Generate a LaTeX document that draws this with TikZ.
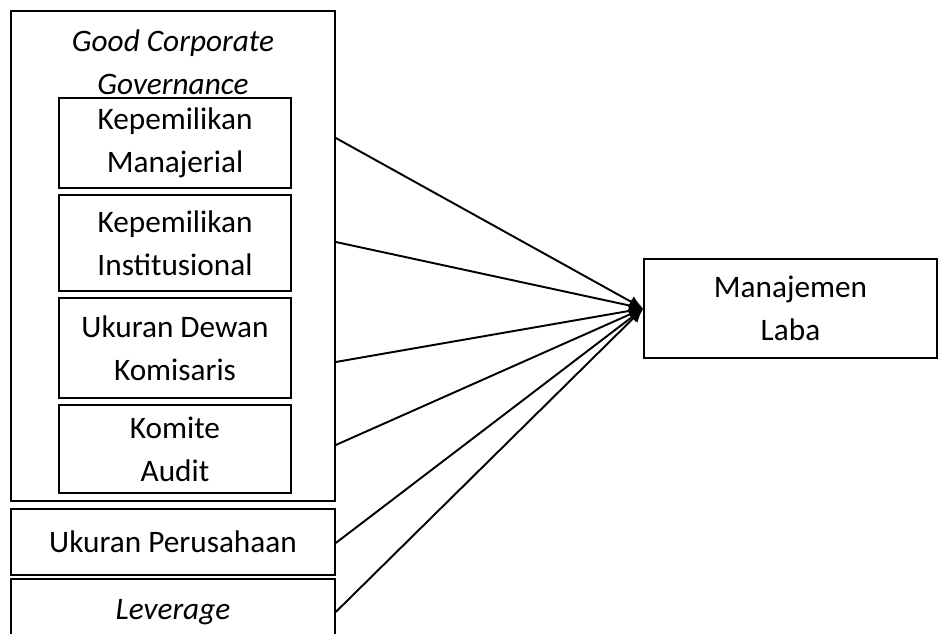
\documentclass[tikz,border=0pt]{standalone}
\usepackage{fontspec}
\setmainfont{Carlito}
\usetikzlibrary{positioning,calc,arrows.meta}

\tikzset{
    box/.style={draw, line width=0.9pt, align=center, inner sep=0pt},
    link/.style={line width=1.1pt, -{Latex[length=8pt,width=7pt]}}
}

\begin{document}
\begin{tikzpicture}[font=\fontsize{17.8}{24.6}\selectfont]
        \clip (0,0) rectangle (18.78,12.68);
        % Frame
        \node[box, minimum width=6.48cm, minimum height=9.8cm] (gcg) at (3.46,7.56) {};
        \node[align=center, font=\fontsize{17.8}{24.6}\selectfont\itshape] (gcgtitle) at (3.46,11.44) {Good Corporate\\Governance};
        % Indicators
        \node[box, minimum width=4.64cm, minimum height=1.8cm] (km) at (3.5,9.82) {Kepemilikan\\Manajerial};
        \node[box, minimum width=4.64cm, minimum height=1.92cm] (ki) at (3.5,7.82) {Kepemilikan\\Institusional};
        \node[box, minimum width=4.64cm, minimum height=2.0cm] (udk) at (3.5,5.72) {Ukuran Dewan\\Komisaris};
        \node[box, minimum width=4.64cm, minimum height=1.76cm] (ka) at (3.5,3.70) {Komite\\Audit};
        % Other variables
        \node[box, minimum width=6.48cm, minimum height=1.32cm] (up) at (3.46,1.84) {Ukuran Perusahaan};
        \node[box, minimum width=6.48cm, minimum height=1.32cm, font=\fontsize{17.8}{24.6}\selectfont\itshape] (lev) at (3.46,0.44) {Leverage};
        \node[box, minimum width=5.86cm, minimum height=1.98cm] (ml) at (15.81,6.51) {Manajemen\\Laba};

        % Start points
        \coordinate (s1) at (gcg.east |- 0,9.92);
        \coordinate (s2) at (gcg.east |- 0,7.84);
        \coordinate (s3) at (gcg.east |- 0,5.44);
        \coordinate (s4) at (gcg.east |- 0,3.78);
        \coordinate (s5) at (up.east |- 0,1.82);
        \coordinate (s6) at (lev.east |- 0,0.44);
        % Arrows
        \foreach \s in {s1,s2,s3,s4,s5,s6} {
            \draw[link] (\s) -- (ml.west);
        }
    \end{tikzpicture}
\end{document}
